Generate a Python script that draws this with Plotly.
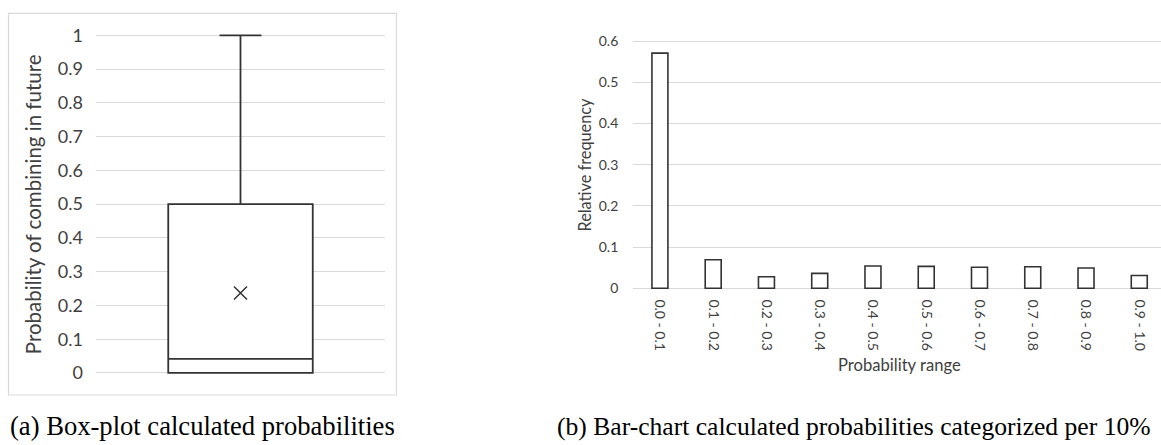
import plotly.graph_objects as go

# ---------------- data ----------------
box_q1 = 0.0
box_median = 0.042
box_q3 = 0.5
box_min = 0.0
box_max = 1.0
box_mean = 0.237

bins = ["0.0 - 0.1", "0.1 - 0.2", "0.2 - 0.3", "0.3 - 0.4", "0.4 - 0.5",
        "0.5 - 0.6", "0.6 - 0.7", "0.7 - 0.8", "0.8 - 0.9", "0.9 - 1.0"]
rel_freq = [0.571, 0.069, 0.028, 0.036, 0.054, 0.053, 0.051, 0.052, 0.049, 0.031]

left_ticks = [0, 0.1, 0.2, 0.3, 0.4, 0.5, 0.6, 0.7, 0.8, 0.9, 1.0]
left_ticktext = ["0", "0.1", "0.2", "0.3", "0.4", "0.5", "0.6", "0.7", "0.8", "0.9", "1"]
right_ticks = [0, 0.1, 0.2, 0.3, 0.4, 0.5, 0.6]
right_ticktext = ["0", "0.1", "0.2", "0.3", "0.4", "0.5", "0.6"]

W, H = 1161, 445
def px(x):
    return x / W
def py(y):
    return 1 - y / H

DARK = "#333333"
TXT = "#404040"
GRID = "#d9d9d9"
FONT = "Lato"

fig = go.Figure()

# box plot (precomputed stats)
fig.add_trace(go.Box(
    x=[0], q1=[box_q1], median=[box_median], q3=[box_q3],
    lowerfence=[box_min], upperfence=[box_max],
    width=0.5, whiskerwidth=0.29, boxpoints=False,
    fillcolor="white", line=dict(color=DARK, width=1.8),
    xaxis="x", yaxis="y", showlegend=False, hoverinfo="skip",
))
fig.add_trace(go.Scatter(
    x=[0], y=[box_mean], mode="markers",
    marker=dict(symbol="x-thin", size=13, line=dict(color=DARK, width=1.5)),
    xaxis="x", yaxis="y", showlegend=False, hoverinfo="skip",
))

# bar chart
fig.add_trace(go.Bar(
    x=bins, y=rel_freq, width=0.3,
    marker=dict(color="white", line=dict(color=DARK, width=1.6)),
    xaxis="x2", yaxis="y2", showlegend=False, hoverinfo="skip",
))

# left axes geometry
l_unit = 349.4  # px per 1.0
l_pad = 0.01
fig.update_layout(
    xaxis=dict(domain=[px(96), px(385)], range=[-0.5, 0.5], showgrid=False,
               zeroline=False, showticklabels=False, showline=False, ticks=""),
    yaxis=dict(domain=[py(377.7 + l_pad * l_unit), py(28.3 - l_pad * l_unit)],
               range=[-l_pad, 1 + l_pad], tickvals=left_ticks, ticktext=left_ticktext,
               showgrid=True, gridcolor=GRID, gridwidth=1.3, zeroline=False,
               showline=False, ticks="", ticklabelstandoff=12,
               tickfont=dict(family=FONT, size=18, color=TXT)),
)

# right axes geometry
r_unit = 255.7 / 0.6
r_pad = 0.003
cat_px = 53.26
span = (W - 633.3) / cat_px
fig.update_layout(
    xaxis2=dict(domain=[px(633.3), 1.0], range=[-0.5, -0.5 + span], type="category",
                showgrid=False, zeroline=False, showline=False, ticks="",
                tickangle=90, ticklabelstandoff=9,
                tickfont=dict(family=FONT, size=14, color=TXT), anchor="y2"),
    yaxis2=dict(domain=[py(290 + r_pad * r_unit), py(34.3 - r_pad * r_unit)],
                range=[-r_pad, 0.6 + r_pad], tickvals=right_ticks, ticktext=right_ticktext,
                showgrid=True, gridcolor=GRID, gridwidth=1.3, zeroline=False,
                showline=False, ticks="", ticklabelstandoff=14,
                tickfont=dict(family=FONT, size=14, color=TXT), anchor="x2"),
)

annotations = [
    dict(text="Probability of combining in future", x=px(33), y=py(203), textangle=-90,
         font=dict(family=FONT, size=20.5, color=TXT)),
    dict(text="Relative frequency", x=px(585), y=py(162), textangle=-90,
         font=dict(family=FONT, size=16.3, color=TXT)),
    dict(text="Probability range", x=px(899), y=py(369),
         font=dict(family=FONT, size=16.6, color=TXT)),
    dict(text="(a) Box-plot calculated probabilities", x=px(8), y=py(433), xanchor="left",
         font=dict(family="Liberation Serif", size=26.6, color="black")),
    dict(text="(b) Bar-chart calculated probabilities categorized per 10%", x=px(555), y=py(433),
         xanchor="left", font=dict(family="Liberation Serif", size=25.6, color="black")),
]
for a in annotations:
    a.setdefault("xanchor", "center")
    a.update(xref="paper", yref="paper", showarrow=False, yanchor="middle")

fig.update_layout(
    annotations=annotations,
    shapes=[dict(type="rect", xref="paper", yref="paper",
                 x0=px(8.5), x1=px(396.5), y0=py(400.5), y1=py(5.5),
                 line=dict(color=GRID, width=1.2), fillcolor="rgba(0,0,0,0)", layer="below")],
    width=W, height=H, margin=dict(l=0, r=0, t=0, b=0),
    paper_bgcolor="white", plot_bgcolor="white",
)

fig.write_html("out.html")
